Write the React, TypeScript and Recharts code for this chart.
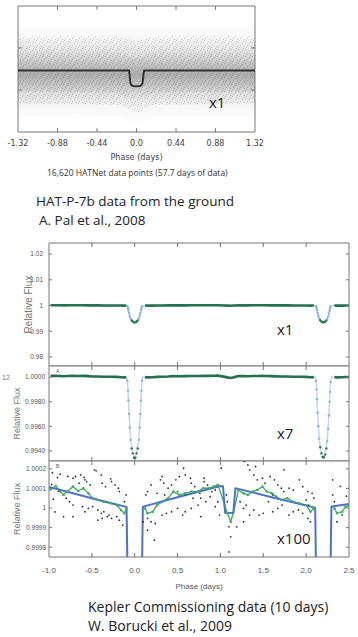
import React from 'react';
import { ComposedChart, Line, Area, Scatter, XAxis, YAxis, Label, ReferenceArea, ReferenceLine } from 'recharts';

// ---- HAT-P-7b ground data (top figure) ----
const hatTicks = [-1.32, -0.88, -0.44, 0, 0.44, 0.88, 1.32];
const hatTickLabels = ['-1.32', '-0.88', '-0.44', '0.0', '0.44', '0.88', '1.32'];
const hatYTicks = [0.9914, 1.0099];
const hatDomain: [number, number] = [0.973, 1.0283];

const hatModelPhase = [-1.32, -0.085, -0.079, -0.074, -0.068, -0.058, -0.04, 0, 0.04, 0.058, 0.068, 0.074, 0.079, 0.085, 1.32];
const hatModelFlux = [1, 1, 0.9988, 0.9966, 0.9946, 0.9936, 0.9932, 0.9931, 0.9932, 0.9936, 0.9946, 0.9966, 0.9988, 1, 1];

// envelope of the 16,620 point cloud (outer / middle / dense core)
const hatBandPhase = [-1.32, -0.7, -0.2, -0.1, 0, 0.1, 0.2, 0.7, 1.32];
const hatOuterLow = [0.98, 0.9802, 0.9798, 0.9775, 0.9762, 0.9775, 0.9798, 0.98, 0.9798];
const hatOuterHigh = [1.02, 1.0205, 1.0203, 1.021, 1.0215, 1.021, 1.0203, 1.0206, 1.0204];
const hatMidLow = [0.9855, 0.9853, 0.985, 0.983, 0.9815, 0.983, 0.985, 0.9852, 0.9855];
const hatMidHigh = [1.0148, 1.0152, 1.015, 1.014, 1.0132, 1.014, 1.015, 1.0153, 1.015];
const hatCoreLow = [0.9908, 0.9905, 0.9903, 0.9885, 0.987, 0.9885, 0.9903, 0.9905, 0.9907];
const hatCoreHigh = [1.0088, 1.0092, 1.009, 1.0065, 1.0055, 1.0065, 1.009, 1.0092, 1.009];

// ---- Kepler commissioning data (bottom figure) ----
const keplerTicks = [-1.0, -0.5, 0, 0.5, 1.0, 1.5, 2.0, 2.5];
const keplerTickLabels = ['-1.0', '-0.5', '0.0', '0.5', '1.0', '1.5', '2.0', '2.5'];
const x1Ticks = [0.98, 0.99, 1, 1.01, 1.02];
const x1Labels = ['0.98', '0.99', '1', '1.01', '1.02'];
const x7Ticks = [0.994, 0.996, 0.998, 1.0];
const x7Labels = ['0.9940', '0.9960', '0.9980', '1.0000'];
const x100Ticks = [0.9998, 0.9999, 1, 1.0001, 1.0002];
const x100Labels = ['0.9998', '0.9999', '1', '1.0001', '1.0002'];

// model light curve (blue)
const modelPhase = [-1.0, -0.5, -0.1, -0.095, -0.085, -0.078, -0.066, -0.047, -0.022, 0, 0.022, 0.047, 0.066, 0.078, 0.085, 0.095, 0.1, 0.5, 1.0, 1.03, 1.055, 1.15, 1.175, 1.2, 1.6, 2.1, 2.105, 2.115, 2.122, 2.134, 2.153, 2.178, 2.2, 2.222, 2.247, 2.266, 2.278, 2.285, 2.295, 2.3, 2.5];
const modelFlux = [1.000108, 1.00005, 1.000006, 1.000005, 0.9997, 0.9989, 0.997, 0.9949, 0.9938, 0.99335, 0.9938, 0.9949, 0.997, 0.9989, 0.9997, 1.000006, 1.000007, 1.000055, 1.000112, 1.00011, 0.999976, 0.999975, 1.0001, 1.000099, 1.000055, 1.000002, 1.000001, 0.9997, 0.9989, 0.997, 0.9949, 0.9938, 0.99335, 0.9938, 0.9949, 0.997, 0.9989, 0.9997, 1.000007, 1.000008, 1.00002];

// binned points (green), null = in transit
const binPhase = [-0.98, -0.92, -0.87, -0.83, -0.78, -0.72, -0.66, -0.6, -0.54, -0.49, -0.43, -0.36, -0.28, -0.21, -0.16, -0.12, -0.1, 0, 0.12, 0.15, 0.21, 0.26, 0.32, 0.39, 0.45, 0.52, 0.59, 0.66, 0.74, 0.8, 0.87, 0.92, 0.97, 1.05, 1.08, 1.12, 1.16, 1.21, 1.27, 1.32, 1.38, 1.43, 1.49, 1.54, 1.6, 1.65, 1.71, 1.78, 1.85, 1.92, 2.0, 2.05, 2.09, 2.2, 2.33, 2.36, 2.42, 2.46, 2.5];
const binFlux = [1.000095, 1.000112, 1.000085, 1.000067, 1.000087, 1.000109, 1.000087, 1.000101, 1.000075, 1.00005, 1.000041, 1.000032, 1.000024, 1.000015, 0.99999, 0.999973, 0.999998, null, 0.999998, 0.999973, 0.999981, 1.000015, 1.000032, 1.00005, 1.000084, 1.000067, 1.000075, 1.000084, 1.000084, 1.000101, 1.000101, 1.000109, 1.000118, 1.000015, 0.999974, 0.99993, 0.99999, 1.000092, 1.000075, 1.000067, 1.000084, 1.000092, 1.000109, 1.000084, 1.000075, 1.000058, 1.000041, 1.00005, 1.000032, 1.000024, 1.000015, 0.999981, 0.999998, null, 0.999998, 0.999973, 0.999981, 1.000007, 1.00001];

// points on the transit walls
const dipPhase = [-0.085, -0.078, -0.073, -0.066, -0.058, -0.047, -0.036, -0.022, -0.008, 0.008, 0.022, 0.036, 0.047, 0.058, 0.066, 0.073, 0.078, 0.085, 2.115, 2.122, 2.127, 2.134, 2.142, 2.153, 2.164, 2.178, 2.192, 2.208, 2.222, 2.236, 2.247, 2.258, 2.266, 2.273, 2.278, 2.285];
const dipFlux = [0.9997, 0.9989, 0.9981, 0.997, 0.9959, 0.9949, 0.9942, 0.9938, 0.99345, 0.99345, 0.9938, 0.9942, 0.9949, 0.9959, 0.997, 0.9981, 0.9989, 0.9997, 0.9997, 0.999, 0.9982, 0.9971, 0.996, 0.995, 0.9943, 0.9938, 0.9935, 0.99348, 0.9937, 0.9942, 0.9948, 0.9958, 0.9969, 0.998, 0.9988, 0.9996];

// individual observations in the x100 panel: [phase, ppm above 1]
const scatterPpm: [number, number][] = [
  [-0.97, 120], [-0.95, 45], [-0.93, -20], [-0.9, 155], [-0.89, 85], [-0.96, 180],
  [-0.87, 173], [-0.78, 161], [-0.72, 152], [-0.69, 161], [-0.63, 169], [-0.59, 156], [-0.58, 144], [-0.47, 195],
  [-0.45, 190], [-0.39, 169], [-0.56, 135], [-0.65, 127], [-0.52, 118], [-0.38, 127], [-0.34, 109], [-0.28, 149],
  [-0.27, 135], [-0.23, 118], [-0.19, 101], [-0.18, 84], [-0.76, 32], [-0.8, 50], [-0.72, 15], [-0.61, 7],
  [-0.58, -19], [-0.54, -2], [-0.49, 7], [-0.43, -10], [-0.39, -27], [-0.36, -19], [-0.3, -36], [-0.27, -53],
  [-0.21, -44], [-0.18, -62], [-0.14, -87], [-0.1, 67], [-0.12, 32], [-0.72, -44], [-0.83, -44], [-0.43, -62],
  [-0.38, -53], [-0.32, -44],
  [0.15, -113], [0.1, -70], [0.15, -53], [0.19, -70], [0.24, -79], [0.23, -164], [0.32, -36], [0.37, -27],
  [0.43, -19], [0.5, -2], [0.56, -36], [0.59, -19], [0.66, -2], [0.74, 15], [0.77, -44], [0.57, 203],
  [0.59, 169], [0.65, 152], [0.66, 127], [0.7, 109], [0.48, 144], [0.52, 161], [0.43, 118], [0.39, 101],
  [0.34, 127], [0.3, 144], [0.19, 118], [0.15, 84], [0.13, 67], [0.26, 75], [0.35, 67], [0.5, 84],
  [0.59, 67], [0.68, 50], [0.76, 75], [0.81, 135], [0.32, 161],
  [1.01, 203], [1.28, 238], [1.32, 220], [1.34, 195], [1.39, 169], [1.43, 144], [1.49, 152], [1.52, 127],
  [1.58, 161], [1.63, 144], [1.67, 118], [1.71, 101], [1.61, 67], [1.74, 84], [1.8, 101], [1.85, 92],
  [1.92, 144], [1.96, 109], [2.02, 84], [2.07, 75], [2.09, 50], [0.81, 152], [0.85, 118], [0.9, 84],
  [0.94, 92], [0.77, 50], [0.83, 32], [0.88, 58], [0.94, 7], [0.97, 32], [0.99, -36], [1.1, -96],
  [1.12, -147], [1.1, -224], [1.07, 67], [1.08, 32], [1.23, 32], [1.27, -2], [1.3, 15], [1.34, -36],
  [1.39, -10], [1.45, -36], [1.5, -27], [1.56, 32], [1.61, -19], [1.67, -2], [1.72, 15], [1.8, -36],
  [1.85, -19], [1.91, -10], [1.96, -27], [2.02, -53], [2.05, -70], [2.0, 41], [2.03, 15], [2.31, 67],
  [2.33, 32], [2.36, -70], [2.42, -36], [1.74, 195], [1.41, 212], [1.19, -96], [1.27, -70], [2.31, 144],
  [2.4, 110], [2.47, 60],
];

const pts = (xs: number[], ys: (number | null)[]) => xs.map((p, i) => ({ p, f: ys[i] }));
const band = (xs: number[], lo: number[], hi: number[]) => xs.map((p, i) => ({ p, r: [lo[i], hi[i]] }));

const hatModel = pts(hatModelPhase, hatModelFlux);
const hatOuter = band(hatBandPhase, hatOuterLow, hatOuterHigh);
const hatMid = band(hatBandPhase, hatMidLow, hatMidHigh);
const hatCore = band(hatBandPhase, hatCoreLow, hatCoreHigh);
const model = pts(modelPhase, modelFlux);
const binned = pts(binPhase, binFlux);
const dips = pts(dipPhase, dipFlux);
const scatter = scatterPpm.map(([p, ppm]) => ({ p, f: 1 + ppm / 1e6 }));

const fmt = (ticks: number[], labels: string[]) => (v: number) => {
  const i = ticks.findIndex((t) => Math.abs(t - v) < 1e-9);
  return i >= 0 ? labels[i] : '';
};
const blank = () => '';

const SANS = '"Liberation Sans", Arial, sans-serif';
const NARROW = '"Liberation Sans Narrow", "DejaVu Sans Condensed", "Liberation Sans", sans-serif';
const CAPTION = '"Open Sans", "Liberation Sans", sans-serif';
const FRAME = '#777';

// plot frame plus inward tick marks on all four sides (tick length as a share of the domain)
function frame(xd: [number, number], yd: [number, number], xt: number[], yt: number[], xLen: number, yLen: number) {
  const dx = (xd[1] - xd[0]) * xLen;
  const dy = (yd[1] - yd[0]) * yLen;
  const inner = xt.filter((t) => t > xd[0] && t < xd[1]);
  const els: React.ReactNode[] = [
    <ReferenceArea key="box" x1={xd[0]} x2={xd[1]} y1={yd[0]} y2={yd[1]} fill="none" stroke={FRAME} strokeWidth={1} ifOverflow="visible" />,
  ];
  inner.forEach((t) => {
    els.push(<ReferenceLine key={`b${t}`} segment={[{ x: t, y: yd[0] }, { x: t, y: yd[0] + dy }]} stroke={FRAME} ifOverflow="visible" />);
    els.push(<ReferenceLine key={`t${t}`} segment={[{ x: t, y: yd[1] }, { x: t, y: yd[1] - dy }]} stroke={FRAME} ifOverflow="visible" />);
  });
  yt.forEach((t) => {
    els.push(<ReferenceLine key={`l${t}`} segment={[{ x: xd[0], y: t }, { x: xd[0] + dx, y: t }]} stroke={FRAME} ifOverflow="visible" />);
    els.push(<ReferenceLine key={`r${t}`} segment={[{ x: xd[1], y: t }, { x: xd[1] - dx, y: t }]} stroke={FRAME} ifOverflow="visible" />);
  });
  return els;
}

const flux = (label: string, xc: number, size: number) => (props: any) => {
  const vb = props.viewBox || {};
  const cy = vb.y + vb.height / 2;
  return (
    <text x={xc} y={cy} transform={`rotate(-90 ${xc} ${cy})`} textAnchor="middle" dominantBaseline="central"
      fontSize={size} fill="#777" fontFamily={SANS}>{label}</text>
  );
};

function HatChart() {
  return (
    <ComposedChart width={270} height={165} margin={{ top: 6, right: 15, bottom: 5, left: 18 }}>
      <defs>
        <pattern id="grain" width="7" height="7" patternUnits="userSpaceOnUse">
          <rect x="0" y="0" width="1" height="1" fill="#555" />
          <rect x="4" y="1" width="1" height="1" fill="#555" />
          <rect x="2" y="3" width="1" height="1" fill="#555" />
          <rect x="6" y="4" width="1" height="1" fill="#555" />
          <rect x="1" y="5" width="1" height="1" fill="#555" />
          <rect x="5" y="6" width="1" height="1" fill="#555" />
        </pattern>
        <linearGradient id="soft" x1="0" y1="0" x2="0" y2="1">
          <stop offset="0" stopColor="#000" stopOpacity={0} />
          <stop offset="0.5" stopColor="#000" stopOpacity={1} />
          <stop offset="1" stopColor="#000" stopOpacity={0} />
        </linearGradient>
      </defs>
      <XAxis type="number" dataKey="p" domain={[-1.32, 1.32]} ticks={hatTicks} interval={0} allowDataOverflow
        tickFormatter={fmt(hatTicks, hatTickLabels)} tickSize={0} tickMargin={8} height={28}
        axisLine={false} tickLine={false} tick={{ fontSize: 9, fill: '#444', fontFamily: NARROW }}>
        <Label value="Phase (days)" position="insideBottom" offset={0} fontSize={9} fill="#444" fontFamily={NARROW} />
      </XAxis>
      <YAxis type="number" domain={hatDomain} ticks={hatYTicks} width={0} hide allowDataOverflow />
      <Area data={hatOuter} dataKey="r" type="monotone" stroke="none" fill="url(#soft)" fillOpacity={0.1} isAnimationActive={false} />
      <Area data={hatMid} dataKey="r" type="monotone" stroke="none" fill="url(#grain)" fillOpacity={0.22} isAnimationActive={false} />
      <Area data={hatMid} dataKey="r" type="monotone" stroke="none" fill="url(#soft)" fillOpacity={0.14} isAnimationActive={false} />
      <Area data={hatCore} dataKey="r" type="monotone" stroke="none" fill="url(#soft)" fillOpacity={0.12} isAnimationActive={false} />
      <Line data={hatModel} dataKey="f" type="linear" stroke="#333" strokeWidth={2} dot={false} isAnimationActive={false} />
      {frame([-1.32, 1.32], hatDomain, hatTicks, hatYTicks, 0.016, 0.03)}
    </ComposedChart>
  );
}

type PanelProps = {
  height: number;
  bottom: number;
  domain: [number, number];
  yTicks: number[];
  yLabels: string[];
  labelX: number;
  labelSize: number;
  tickMargin: number;
  showX?: boolean;
  children: React.ReactNode;
};

function KeplerPanel({ height, bottom, domain, yTicks, yLabels, labelX, labelSize, tickMargin, showX, children }: PanelProps) {
  const plotH = height - 6 - bottom;
  return (
    <ComposedChart width={358} height={height} margin={{ top: 6, right: 9, bottom: 0, left: 0 }}>
      <XAxis type="number" dataKey="p" domain={[-1, 2.5]} ticks={keplerTicks} interval={0} allowDataOverflow
        tickFormatter={showX ? fmt(keplerTicks, keplerTickLabels) : blank} tickSize={0} tickMargin={10} height={bottom}
        hide={!showX} axisLine={false} tickLine={false} tick={{ fontSize: 8, fill: '#555', fontFamily: SANS }}>
        {showX ? <Label value="Phase (days)" position="insideBottom" offset={2} fontSize={8} fill="#555" fontFamily={SANS} /> : null}
      </XAxis>
      <YAxis type="number" domain={domain} ticks={yTicks} interval={0} width={49} allowDataOverflow
        tickFormatter={fmt(yTicks, yLabels)} tickSize={0} tickMargin={tickMargin} axisLine={false} tickLine={false}
        tick={{ fontSize: 6.5, fill: '#555', fontFamily: SANS }}>
        <Label content={flux('Relative Flux', labelX, labelSize)} />
      </YAxis>
      {children}
      {frame([-1, 2.5], domain, keplerTicks, yTicks, 0.01, 4 / plotH)}
    </ComposedChart>
  );
}

const dot = (r: number, fill: string) => (props: any) =>
  props.cx == null ? <g /> : <circle cx={props.cx} cy={props.cy} r={r} fill={fill} />;

// wall points read light blue, points near the bottom of the transit green
const dipDot = (props: any) =>
  props.cx == null ? <g /> : (
    <circle cx={props.cx} cy={props.cy} r={1.2} fill={props.payload && props.payload.f < 0.9946 ? '#2b7a55' : '#86b4cf'} />
  );

function Txt({ x, y, size, children, color = '#222', family = CAPTION, weight = 400 }: any) {
  return (
    <div style={{ position: 'absolute', left: x, top: y - size / 2, fontSize: size, lineHeight: `${size}px`,
      color, fontFamily: family, fontWeight: weight, whiteSpace: 'nowrap' }}>{children}</div>
  );
}

export default function App() {
  const low = [
    <Line key="m" data={model} dataKey="f" type="linear" stroke="#c4d6ef" strokeWidth={1.5} dot={false} isAnimationActive={false} />,
    <Line key="b" data={binned} dataKey="f" type="linear" stroke="#24704f" strokeWidth={2.6} dot={false} isAnimationActive={false} />,
    <Scatter key="d" data={dips} dataKey="f" shape={dipDot} isAnimationActive={false} />,
  ];
  return (
    <div style={{ position: 'absolute', left: 0, top: 0, width: 358, height: 637, background: '#fff', overflow: 'hidden' }}>
      <div style={{ position: 'absolute', left: 0, top: 0 }}>
        <HatChart />
      </div>
      <div style={{ position: 'absolute', left: 0, top: 237 }}>
        <KeplerPanel height={129} bottom={0} domain={[0.9765, 1.0243]} yTicks={x1Ticks} yLabels={x1Labels} labelX={28} labelSize={10} tickMargin={6}>
          {low}
        </KeplerPanel>
      </div>
      <div style={{ position: 'absolute', left: 0, top: 360 }}>
        <KeplerPanel height={101} bottom={0} domain={[0.99318, 1.0009]} yTicks={x7Ticks} yLabels={x7Labels} labelX={17} labelSize={9} tickMargin={4}>
          {low}
        </KeplerPanel>
      </div>
      <div style={{ position: 'absolute', left: 0, top: 455 }}>
        <KeplerPanel height={136} bottom={34} domain={[0.99975, 1.00024]} yTicks={x100Ticks} yLabels={x100Labels} labelX={17} labelSize={9} tickMargin={3} showX>
          <Scatter data={scatter} dataKey="f" shape={dot(0.9, '#333')} isAnimationActive={false} />
          <Line data={binned} dataKey="f" type="linear" stroke="#3fae5f" strokeWidth={1.3} dot={{ r: 1.3, fill: '#3fae5f', stroke: 'none' }} isAnimationActive={false} />
          <Line data={model} dataKey="f" type="linear" stroke="#4f72c8" strokeWidth={2} dot={false} isAnimationActive={false} />
        </KeplerPanel>
      </div>

      <Txt x={47} y={173} size={8.5} color="#333">16,620 HATNet data points (57.7 days of data)</Txt>
      <Txt x={36} y={202} size={13.5}>HAT-P-7b data from the ground</Txt>
      <Txt x={39} y={221} size={13.5}>A. Pal et al., 2008</Txt>
      <Txt x={209} y={102} size={15}>x1</Txt>

      <Txt x={277} y={329} size={15}>x1</Txt>
      <Txt x={277} y={433} size={15}>x7</Txt>
      <Txt x={277} y={538} size={15}>x100</Txt>
      <Txt x={2} y={377} size={7} color="#777" family={SANS}>12</Txt>
      <Txt x={56} y={371} size={5} color="#555" family={SANS}>A</Txt>
      <Txt x={56} y={466} size={5} color="#555" family={SANS}>B</Txt>

      <Txt x={88} y={607} size={14}>Kepler Commissioning data (10 days)</Txt>
      <Txt x={88} y={626} size={14}>W. Borucki et al., 2009</Txt>
    </div>
  );
}
